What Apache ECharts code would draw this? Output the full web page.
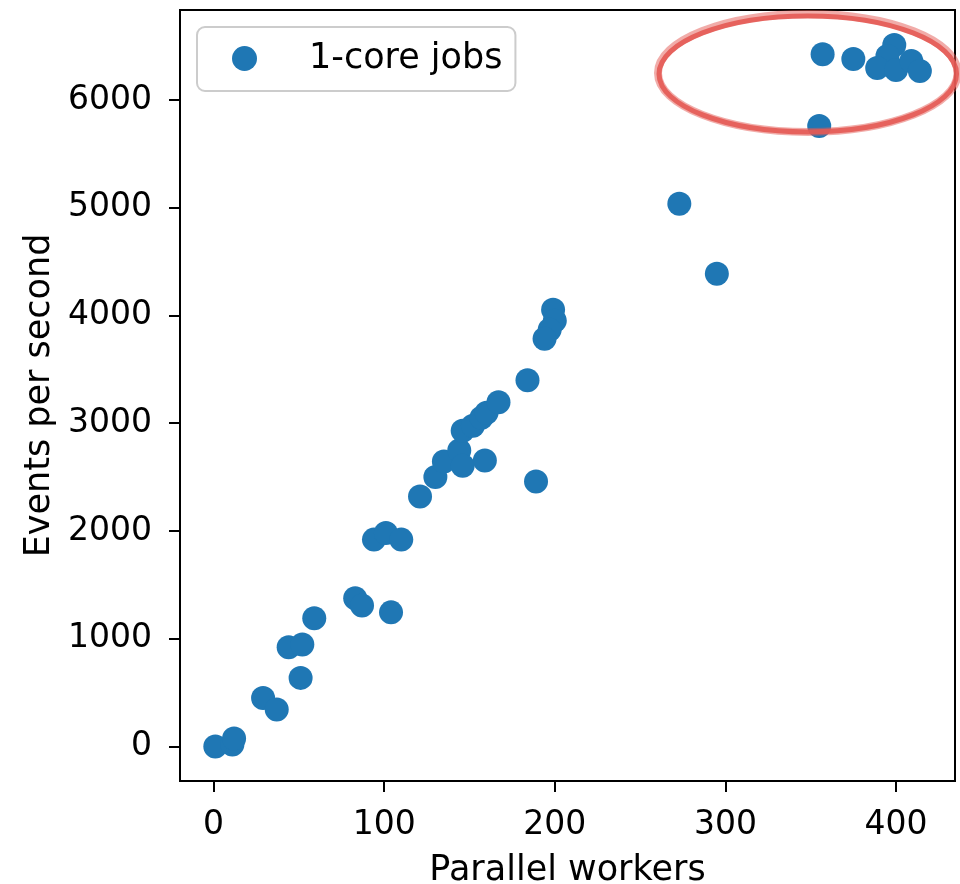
<!DOCTYPE html>
<html>
<head>
<meta charset="utf-8">
<script src="https://cdn.jsdelivr.net/npm/echarts@6/dist/echarts.min.js"></script>
<style>
  html, body { margin: 0; padding: 0; background: #fff; }
  #chart { width: 960px; height: 884px; }
</style>
</head>
<body>
<div id="chart"></div>
<script>
// Throughput of 1-core jobs against number of parallel workers
const workers = [
  1, 11, 12, 29, 37, 44, 52, 51, 59, 83, 87, 104, 94, 101, 110,
  121, 130, 135, 144, 146, 159, 146, 152, 157, 160, 167, 184, 189,
  199, 200, 197, 194, 273, 295, 355, 357, 375, 399, 395, 389, 400, 409, 414
];
const eventsPerSecond = [
  0, 19, 74, 450, 343, 921, 946, 637, 1190, 1375, 1308, 1245, 1920, 1982, 1920,
  2321, 2501, 2646, 2748, 2606, 2655, 2931, 2977, 3051, 3098, 3195, 3399, 2460,
  4053, 3951, 3867, 3784, 5036, 4387, 5759, 6424, 6380, 6510, 6408, 6297, 6279, 6362, 6269
];
const xTicks = [0, 100, 200, 300, 400];
const yTicks = [0, 1000, 2000, 3000, 4000, 5000, 6000];

const points = workers.map((w, i) => [w, eventsPerSecond[i]]);

const FONT = 'DejaVu Sans';
const chart = echarts.init(document.getElementById('chart'), null, { renderer: 'canvas' });

const axisCommon = {
  axisLine: { show: true, onZero: false, lineStyle: { color: '#000', width: 2 } },
  axisTick: { show: true, length: 11, lineStyle: { color: '#000', width: 2 } },
  splitLine: { show: false },
  nameLocation: 'middle',
  nameTextStyle: { fontFamily: FONT, fontSize: 35, color: '#000' }
};
const plain = v => String(v);

chart.setOption({
  animation: false,
  backgroundColor: '#fff',
  grid: {
    left: 180, right: 5, top: 10, bottom: 103,
    outerBoundsMode: 'none',
    containLabel: false,
    show: true, borderColor: '#000', borderWidth: 2
  },
  legend: {
    left: 197, top: 27,
    padding: [14, 13, 15, 35],
    itemWidth: 25, itemHeight: 25,
    icon: 'circle',
    borderColor: '#cccccc', borderWidth: 2, borderRadius: 8,
    backgroundColor: 'rgba(255,255,255,0.8)',
    textStyle: { fontFamily: FONT, fontSize: 35, color: '#000', padding: [0, 0, 0, 47] },
    data: ['1-core jobs']
  },
  xAxis: Object.assign({}, axisCommon, {
    type: 'value',
    min: -19.7, max: 434.6,
    name: 'Parallel workers',
    nameGap: 72,
    axisTick: Object.assign({}, axisCommon.axisTick, { customValues: xTicks }),
    axisLabel: { customValues: xTicks, formatter: plain, margin: 28, fontFamily: FONT, fontSize: 33, color: '#000' }
  }),
  yAxis: Object.assign({}, axisCommon, {
    type: 'value',
    min: -320, max: 6835,
    name: 'Events per second',
    nameGap: 121,
    axisTick: Object.assign({}, axisCommon.axisTick, { customValues: yTicks }),
    axisLabel: { customValues: yTicks, formatter: plain, margin: 28, fontFamily: FONT, fontSize: 33, color: '#000' }
  }),
  series: [{
    name: '1-core jobs',
    type: 'scatter',
    data: points,
    symbol: 'circle',
    symbolSize: 24,
    itemStyle: { color: '#1f77b4', opacity: 1 }
  }]
});

// Red ring highlighting the saturated region around 350-415 workers
const c = chart.convertToPixel({ gridIndex: 0 }, [348.3, 6251]);
const e = chart.convertToPixel({ gridIndex: 0 }, [348.3 + 87.8, 6251 - 538]);
const rx = e[0] - c[0], ry = e[1] - c[1];
chart.setOption({
  graphic: [
    {
      type: 'ellipse',
      shape: { cx: c[0], cy: c[1], rx: rx, ry: ry + 1 },
      style: { fill: null, stroke: 'rgba(228,90,84,0.5)', lineWidth: 8 },
      z: 100
    },
    {
      type: 'ellipse',
      shape: { cx: c[0], cy: c[1] + 1, rx: rx - 1, ry: ry },
      style: { fill: null, stroke: 'rgba(228,90,84,0.9)', lineWidth: 5 },
      z: 101
    }
  ]
});
</script>
</body>
</html>
